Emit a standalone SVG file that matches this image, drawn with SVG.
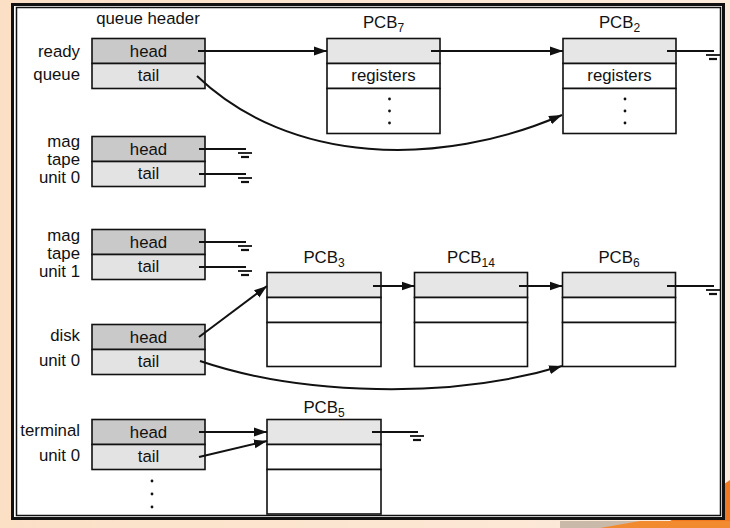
<svg xmlns="http://www.w3.org/2000/svg" width="730" height="528" viewBox="0 0 730 528">
<style>
text{font-family:"Liberation Sans",Arial,sans-serif;font-size:16.8px;fill:#111}
.lbl{text-anchor:end}
.mid{text-anchor:middle}
.sub{font-size:12px}
.hd{fill:#c9c9c9;stroke:#111;stroke-width:1.6}
.tl{fill:#e3e3e3;stroke:#111;stroke-width:1.6}
.pt{fill:#e6e6e6;stroke:#111;stroke-width:1.6}
.pw{fill:#fff;stroke:#111;stroke-width:1.6}
.cn{fill:none;stroke:#111;stroke-width:2}
.gb{stroke:#111;stroke-width:1.8}
.dot{fill:#111}
</style>
<defs>
<marker id="ah" markerUnits="userSpaceOnUse" markerWidth="14" markerHeight="10" refX="13" refY="5" orient="auto">
<path d="M0,0.5 L13,5 L0,9.5 z" fill="#111"/>
</marker>
<g id="gnd">
<line class="gb" x1="-7" y1="4" x2="7" y2="4"/>
<line class="gb" x1="-4" y1="8" x2="4" y2="8" style="stroke-width:2.2"/>
</g>
<linearGradient id="bgg" x1="0" y1="0" x2="1" y2="0">
<stop offset="0" stop-color="#fbe0c6"/>
<stop offset="1" stop-color="#fdebdc"/>
</linearGradient>
</defs>
<rect x="0" y="0" width="730" height="528" fill="url(#bgg)"/>
<polygon points="560,521 730,521 730,528 560,528" fill="#c9b9a9"/>
<polygon points="660,528 730,480 730,528" fill="#f07a22"/>
<polygon points="600,528 640,521 730,521 730,528" fill="#f28a30"/>
<rect x="12.5" y="4.5" width="711" height="514" fill="#fff" stroke="#111" stroke-width="3"/>
<rect x="16.5" y="7.5" width="704" height="508" fill="none" stroke="#111" stroke-width="1.5"/>

<text x="148" y="24" class="mid">queue header</text>

<g id="ready-queue">
<rect class="hd" x="92" y="38.5" width="113" height="25"/>
<rect class="tl" x="92" y="63.5" width="113" height="25"/>
<text x="148.5" y="56.5" class="mid">head</text>
<text x="148.5" y="80.5" class="mid">tail</text>
<text x="80" y="56.5" class="lbl">ready</text>
<text x="80" y="80" class="lbl">queue</text>
</g>

<g id="mag-tape-unit-0">
<rect class="hd" x="92" y="136.5" width="113" height="25"/>
<rect class="tl" x="92" y="161.5" width="113" height="25"/>
<text x="148.5" y="154.5" class="mid">head</text>
<text x="148.5" y="178.5" class="mid">tail</text>
<text x="80" y="147" class="lbl">mag</text>
<text x="80" y="165" class="lbl">tape</text>
<text x="80" y="183" class="lbl">unit 0</text>
</g>

<g id="mag-tape-unit-1">
<rect class="hd" x="92" y="229.5" width="113" height="25"/>
<rect class="tl" x="92" y="254.5" width="113" height="25"/>
<text x="148.5" y="247.5" class="mid">head</text>
<text x="148.5" y="271.5" class="mid">tail</text>
<text x="80" y="241" class="lbl">mag</text>
<text x="80" y="259" class="lbl">tape</text>
<text x="80" y="277" class="lbl">unit 1</text>
</g>

<g id="disk-unit-0">
<rect class="hd" x="92" y="324.5" width="113" height="25"/>
<rect class="tl" x="92" y="349.5" width="113" height="25"/>
<text x="148.5" y="342.5" class="mid">head</text>
<text x="148.5" y="366.5" class="mid">tail</text>
<text x="80" y="341" class="lbl">disk</text>
<text x="80" y="366" class="lbl">unit 0</text>
</g>

<g id="terminal-unit-0">
<rect class="hd" x="92" y="419.5" width="113" height="25"/>
<rect class="tl" x="92" y="444.5" width="113" height="25"/>
<text x="148.5" y="437.5" class="mid">head</text>
<text x="148.5" y="461.5" class="mid">tail</text>
<text x="80" y="436" class="lbl">terminal</text>
<text x="80" y="461" class="lbl">unit 0</text>
<circle class="dot" cx="152" cy="481" r="1.4"/>
<circle class="dot" cx="152" cy="494" r="1.4"/>
<circle class="dot" cx="152" cy="507" r="1.4"/>
</g>

<g id="pcb7">
<rect class="pt" x="327" y="38.5" width="113" height="25"/>
<rect class="pw" x="327" y="63.5" width="113" height="25"/>
<rect class="pw" x="327" y="88.5" width="113" height="45"/>
<text x="383.5" y="80.5" class="mid">registers</text>
<circle class="dot" cx="389.5" cy="99" r="1.4"/>
<circle class="dot" cx="389.5" cy="111" r="1.4"/>
<circle class="dot" cx="389.5" cy="123" r="1.4"/>
<text x="383.5" y="28" class="mid">PCB<tspan class="sub" dy="4">7</tspan></text>
</g>

<g id="pcb2">
<rect class="pt" x="563" y="38.5" width="113" height="25"/>
<rect class="pw" x="563" y="63.5" width="113" height="25"/>
<rect class="pw" x="563" y="88.5" width="113" height="45"/>
<text x="619.5" y="80.5" class="mid">registers</text>
<circle class="dot" cx="625" cy="99" r="1.4"/>
<circle class="dot" cx="625" cy="111" r="1.4"/>
<circle class="dot" cx="625" cy="123" r="1.4"/>
<text x="619.5" y="28" class="mid">PCB<tspan class="sub" dy="4">2</tspan></text>
</g>

<g id="pcb3">
<rect class="pt" x="267" y="272.5" width="114" height="25"/>
<rect class="pw" x="267" y="297.5" width="114" height="25"/>
<rect class="pw" x="267" y="322.5" width="114" height="44"/>
<text x="324" y="263" class="mid">PCB<tspan class="sub" dy="4">3</tspan></text>
</g>

<g id="pcb14">
<rect class="pt" x="414.5" y="272.5" width="113" height="25"/>
<rect class="pw" x="414.5" y="297.5" width="113" height="25"/>
<rect class="pw" x="414.5" y="322.5" width="113" height="44"/>
<text x="471" y="263" class="mid">PCB<tspan class="sub" dy="4">14</tspan></text>
</g>

<g id="pcb6">
<rect class="pt" x="562.5" y="272.5" width="113" height="25"/>
<rect class="pw" x="562.5" y="297.5" width="113" height="25"/>
<rect class="pw" x="562.5" y="322.5" width="113" height="44"/>
<text x="619" y="263" class="mid">PCB<tspan class="sub" dy="4">6</tspan></text>
</g>

<g id="pcb5">
<rect class="pt" x="267" y="419.5" width="114" height="25"/>
<rect class="pw" x="267" y="444.5" width="114" height="25"/>
<rect class="pw" x="267" y="469.5" width="114" height="44.5"/>
<text x="324" y="413" class="mid">PCB<tspan class="sub" dy="4">5</tspan></text>
</g>

<g id="connectors">
<line class="cn" x1="198" y1="51" x2="327" y2="51" marker-end="url(#ah)"/>
<path class="cn" d="M197,76 C290,165 440,168 562,115" marker-end="url(#ah)"/>
<line class="cn" x1="431" y1="51" x2="563" y2="51" marker-end="url(#ah)"/>
<line class="cn" x1="667" y1="51" x2="714" y2="51"/>
<use href="#gnd" x="713" y="51"/>

<line class="cn" x1="199" y1="149" x2="246" y2="149"/>
<use href="#gnd" x="245" y="149"/>
<line class="cn" x1="199" y1="174" x2="246" y2="174"/>
<use href="#gnd" x="245" y="174"/>

<line class="cn" x1="199" y1="242" x2="246" y2="242"/>
<use href="#gnd" x="245" y="242"/>
<line class="cn" x1="199" y1="267" x2="246" y2="267"/>
<use href="#gnd" x="245" y="267"/>

<line class="cn" x1="199" y1="337" x2="267" y2="286" marker-end="url(#ah)"/>
<path class="cn" d="M200,361 C300,395 450,400 562,366" marker-end="url(#ah)"/>
<line class="cn" x1="373" y1="286" x2="414.5" y2="286" marker-end="url(#ah)"/>
<line class="cn" x1="519" y1="286" x2="562.5" y2="286" marker-end="url(#ah)"/>
<line class="cn" x1="667" y1="286" x2="714" y2="286"/>
<use href="#gnd" x="713" y="286"/>

<line class="cn" x1="199" y1="432" x2="267" y2="432" marker-end="url(#ah)"/>
<line class="cn" x1="199" y1="457" x2="267" y2="441" marker-end="url(#ah)"/>
<line class="cn" x1="372" y1="432" x2="418" y2="432"/>
<use href="#gnd" x="417" y="432"/>
</g>
</svg>
